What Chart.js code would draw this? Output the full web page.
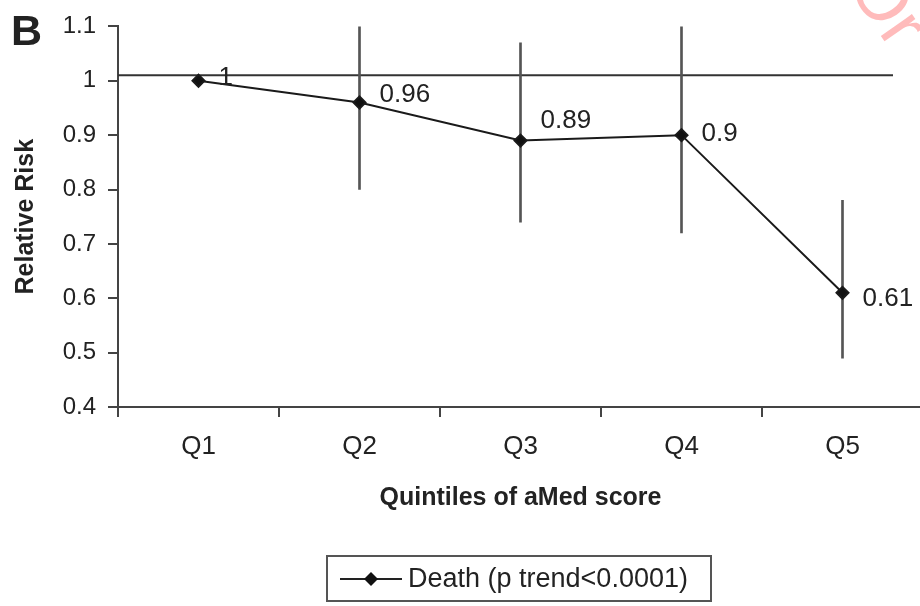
<!DOCTYPE html>
<html>
<head>
<meta charset="utf-8">
<script src="https://cdn.jsdelivr.net/npm/chart.js@4.4.1/dist/chart.umd.min.js"></script>
<style>
    body { margin: 0; background: #fff; overflow: hidden; }
    #wrap { position: relative; width: 920px; height: 606px; overflow: hidden; }
    #legend {
        position: absolute; left: 326px; top: 555px; width: 386px; height: 47px;
        border: 2px solid #555; font-family: "Liberation Sans", Arial, sans-serif;
        font-size: 27px; color: #222; display: flex; align-items: center; box-sizing: border-box;
    }
    #legend svg { margin-left: 12px; margin-right: 6px; }
</style>
</head>
<body>
<div id="wrap">
    <canvas id="myChart" width="932" height="606"></canvas>
    <div id="legend">
        <svg width="62" height="20"><line x1="0" y1="10" x2="62" y2="10" stroke="#222" stroke-width="2"/><path d="M31 3 L38 10 L31 17 L24 10 Z" fill="#111"/></svg>
        <span>Death (p trend&lt;0.0001)</span>
    </div>
</div>
<script>
const quintiles = ['Q1', 'Q2', 'Q3', 'Q4', 'Q5'];
const relativeRisk = [1, 0.96, 0.89, 0.9, 0.61];
const ciLow = [null, 0.80, 0.74, 0.72, 0.49];
const ciHigh = [null, 1.11, 1.07, 1.11, 0.78];
const referenceLine = 1.01;
const panelLetter = 'B';

const font = '"Liberation Sans", Arial, sans-serif';
const textColor = '#222';
const axisColor = '#444';

const errorBars = quintiles.map((q, i) => ciLow[i] === null ? null : [ciLow[i], ciHigh[i]]);

// offsets for the value labels next to each point
const labelDy = [-3, -8, -20, -1, 6];

const extrasPlugin = {
    id: 'extras',
    beforeDatasetsDraw(chart) {
        const ctx = chart.ctx;
        const area = chart.chartArea;
        const y = chart.scales.y.getPixelForValue(referenceLine);
        ctx.save();
        ctx.strokeStyle = '#333';
        ctx.lineWidth = 2;
        ctx.beginPath();
        ctx.moveTo(area.left, y);
        ctx.lineTo(893, y);
        ctx.stroke();
        ctx.restore();
    },
    afterDraw(chart) {
        const ctx = chart.ctx;
        const meta = chart.getDatasetMeta(1);
        ctx.save();
        ctx.fillStyle = textColor;
        ctx.font = '26px ' + font;
        ctx.textBaseline = 'middle';
        ctx.textAlign = 'left';
        meta.data.forEach((pt, i) => {
            ctx.fillText(String(relativeRisk[i]), pt.x + 20, pt.y + labelDy[i]);
        });
        ctx.font = 'bold 43px ' + font;
        ctx.textBaseline = 'alphabetic';
        ctx.fillText(panelLetter, 11, 45);
        // faint watermark in the corner
        ctx.translate(846, -14);
        ctx.rotate(Math.PI * 55 / 180);
        ctx.fillStyle = 'rgba(255, 120, 120, 0.5)';
        ctx.font = '72px ' + font;
        ctx.fillText('Or', 0, 0);
        ctx.restore();
    }
};

const ctx = document.getElementById('myChart').getContext('2d');
new Chart(ctx, {
    type: 'line',
    data: {
        labels: quintiles,
        datasets: [{
            type: 'bar',
            data: errorBars,
            backgroundColor: '#555',
            borderWidth: 0,
            barThickness: 2,
            order: 2
        }, {
            type: 'line',
            data: relativeRisk,
            borderColor: '#1a1a1a',
            borderWidth: 2,
            backgroundColor: '#111',
            pointStyle: 'rectRot',
            pointRadius: 6,
            pointHoverRadius: 6,
            tension: 0,
            order: 1
        }]
    },
    options: {
        responsive: false,
        animation: false,
        layout: { padding: { top: 20, right: 9, bottom: 93, left: 0 } },
        plugins: {
            legend: { display: false },
            tooltip: { enabled: false }
        },
        scales: {
            x: {
                offset: true,
                grid: {
                    offset: true,
                    drawOnChartArea: false,
                    tickLength: 10,
                    color: axisColor,
                    lineWidth: 2
                },
                border: { color: axisColor, width: 2 },
                ticks: { color: textColor, font: { family: font, size: 26 }, padding: 14 },
                title: {
                    display: true,
                    text: 'Quintiles of aMed score',
                    color: textColor,
                    font: { family: font, size: 25, weight: 'bold' },
                    padding: 0
                },
                afterFit: scale => { scale.height = 106; }
            },
            y: {
                min: 0.4,
                max: 1.1,
                grid: {
                    drawOnChartArea: false,
                    tickLength: 10,
                    color: axisColor,
                    lineWidth: 2
                },
                border: { color: axisColor, width: 2 },
                ticks: {
                    stepSize: 0.1,
                    color: textColor,
                    font: { family: font, size: 24 },
                    padding: 12,
                    callback: v => String(Number(v.toFixed(1)))
                },
                title: {
                    display: true,
                    text: 'Relative Risk',
                    color: textColor,
                    font: { family: font, size: 25, weight: 'bold' },
                    padding: { top: 11, bottom: 0 }
                },
                afterFit: scale => { scale.width = 118; }
            }
        }
    },
    plugins: [extrasPlugin]
});
</script>
</body>
</html>
